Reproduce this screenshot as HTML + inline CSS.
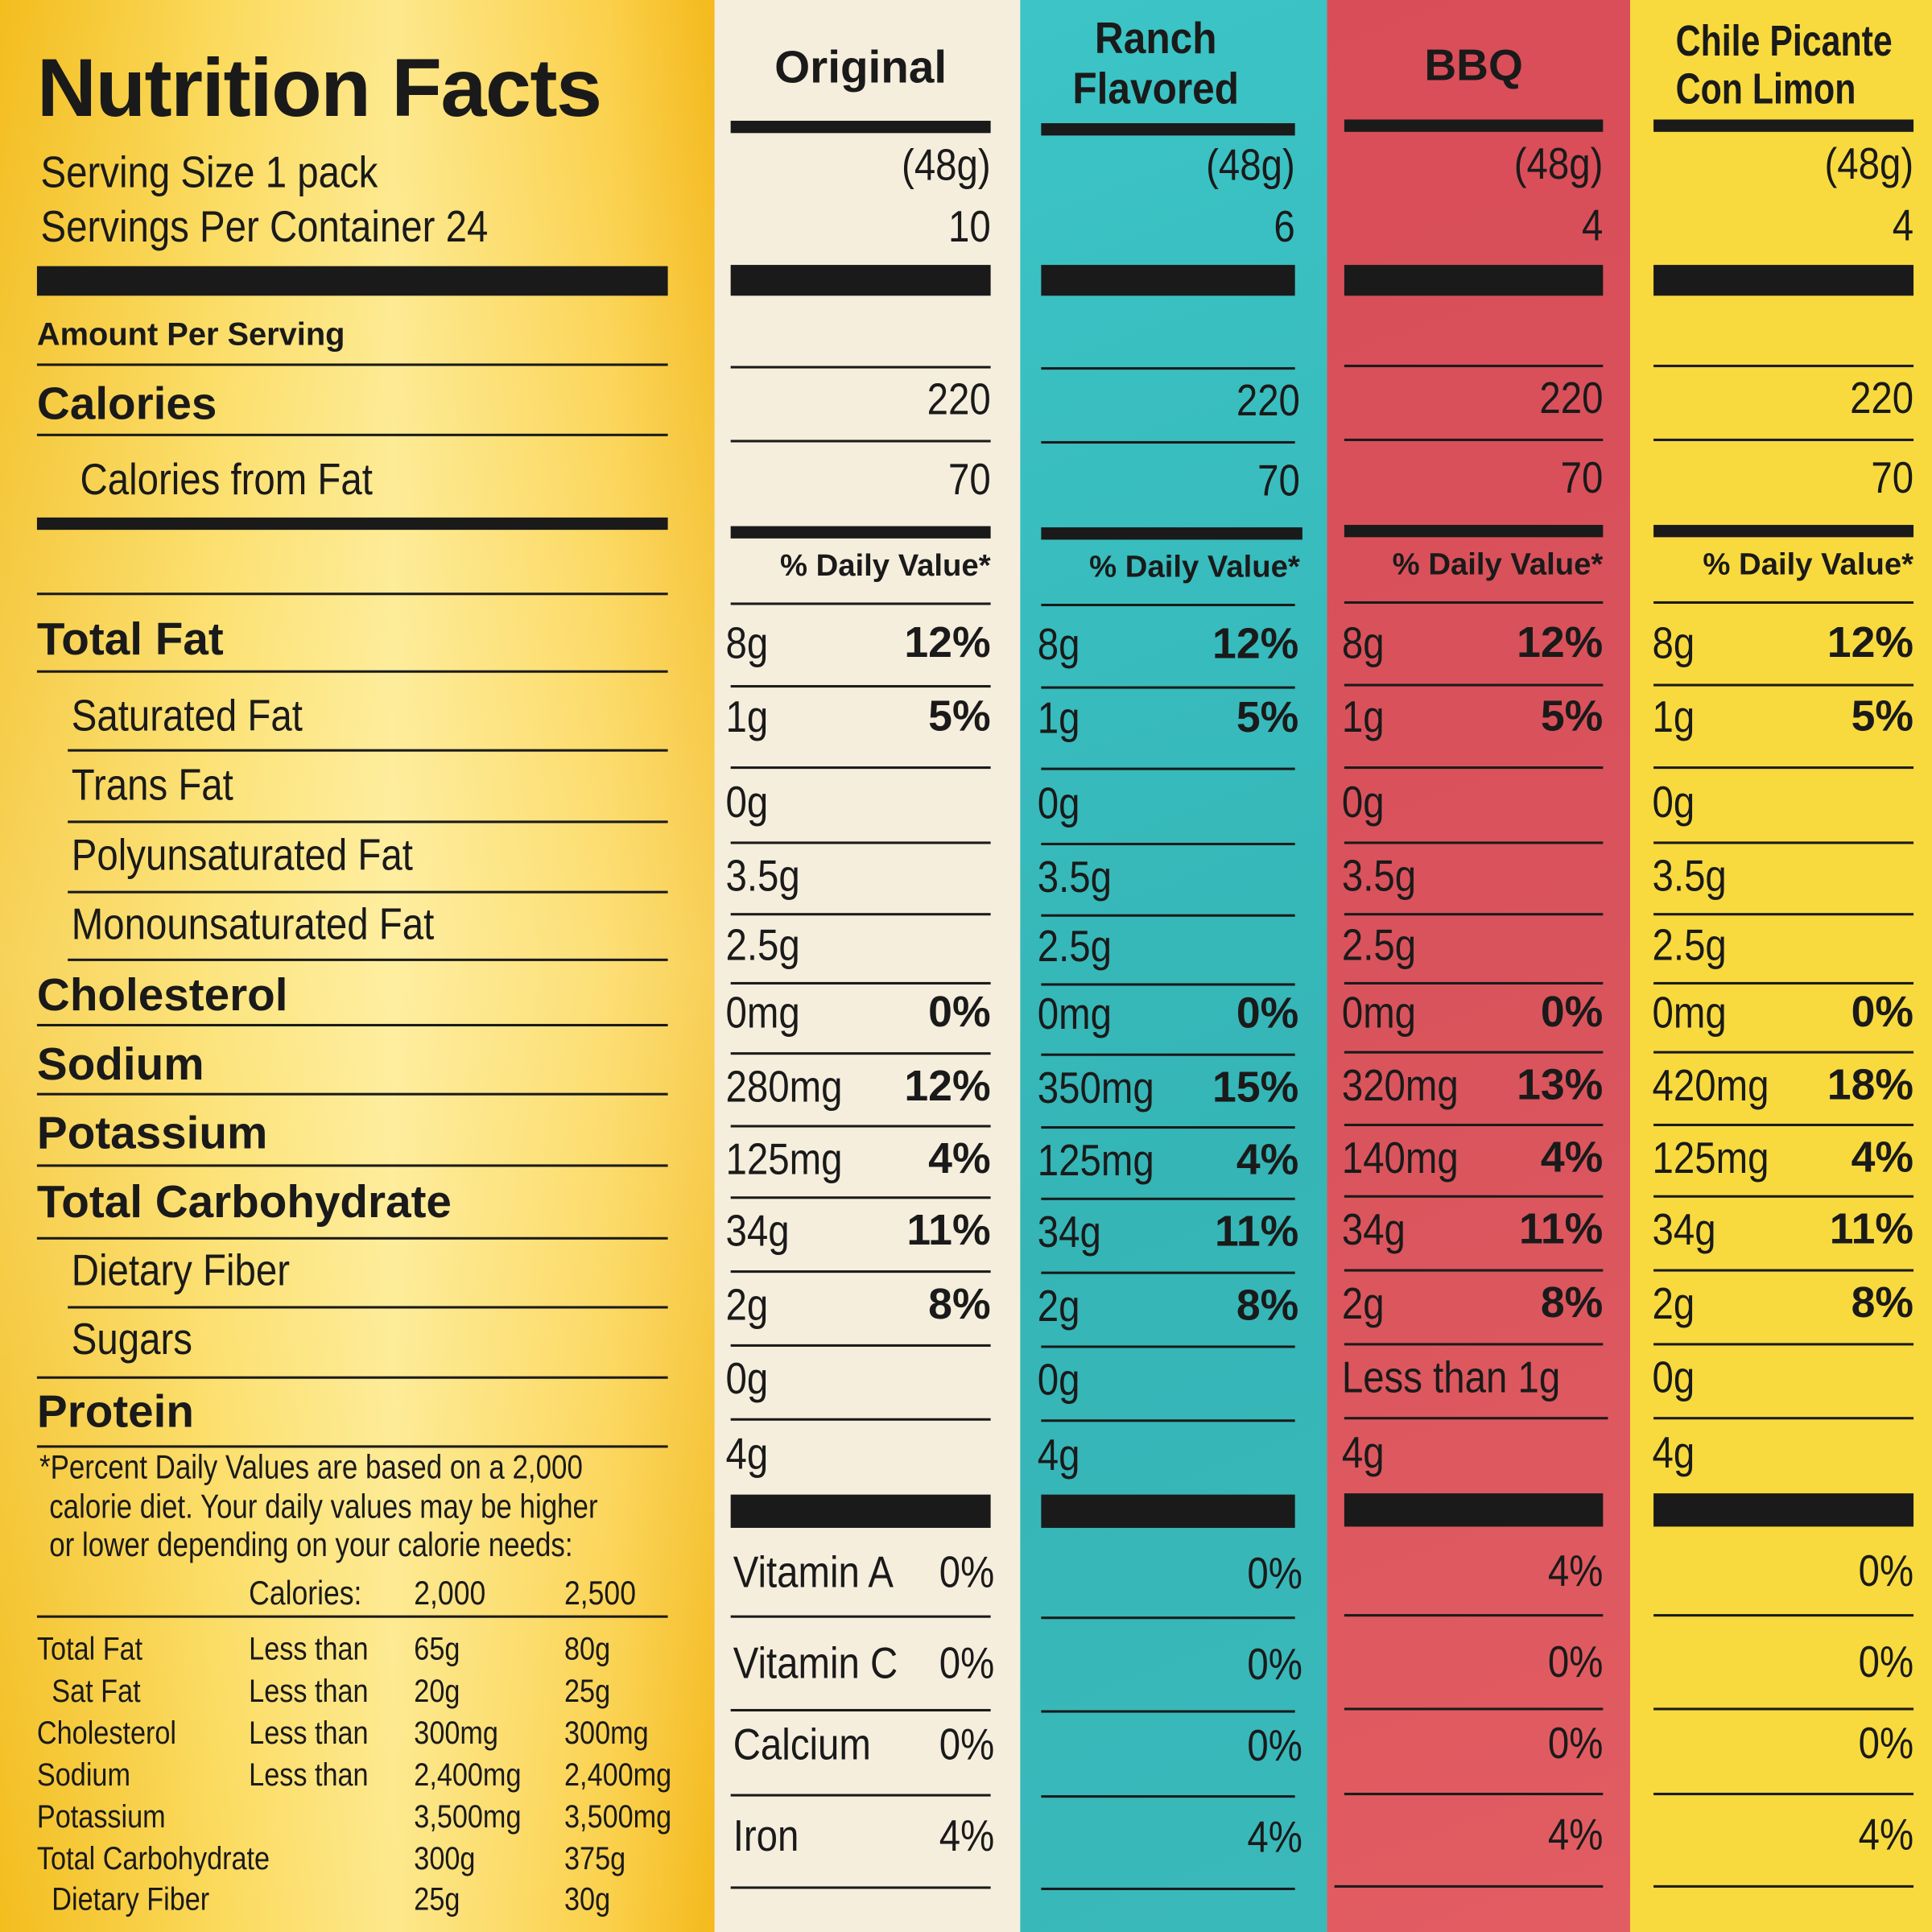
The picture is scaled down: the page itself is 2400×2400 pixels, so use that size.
<!DOCTYPE html>
<html><head><meta charset="utf-8"><style>
html,body{margin:0;padding:0;width:2400px;height:2400px;overflow:hidden;background:#fff}
#w{position:absolute;left:0;top:0;width:1568px;height:1568px;transform:scale(1.530612);transform-origin:0 0;overflow:hidden}
.p{position:absolute;top:0;height:1568px}
.t{position:absolute;white-space:nowrap;line-height:1;font-family:"Liberation Sans Narrow","Liberation Sans",sans-serif;color:#1a1a1a;font-size:36px;transform:scaleX(.86);transform-origin:0 0}
.r{right:0;text-align:right;transform-origin:100% 0}
.b{font-weight:bold;font-family:"Liberation Sans",sans-serif;transform:none}
.lb{font-size:37px!important}
.l{position:absolute;height:2px;background:#1a1a1a}
.k{position:absolute;background:#1a1a1a}
.c{position:absolute;top:0;height:1568px}
.c .l{left:0;right:0}
.c .k{left:0;right:0}
</style></head><body><div id="w">
<div class="p" style="left:0;width:580px;background:linear-gradient(90deg,#f3bd1e 0%,#fbd95a 30%,#fde88c 55%,#fbd04a 85%,#f4b91c 100%)"></div>
<div class="p" style="left:0;width:580px;background:linear-gradient(180deg,rgba(255,255,255,0) 0%,rgba(255,250,200,.35) 50%,rgba(255,255,255,0) 100%)"></div>
<div class="p" style="left:580px;width:248px;background:#f6eedd"></div>
<div class="p" style="left:828px;width:249px;background:linear-gradient(160deg,#3cc4c6,#35b5b6 60%,#3ab9bb)"></div>
<div class="p" style="left:1077px;width:246px;background:linear-gradient(160deg,#d94d58,#d9535c 50%,#e25d62)"></div>
<div class="p" style="left:1323px;width:245px;background:#f8da3e"></div>

<!-- left panel -->
<div class="t b" style="left:30px;top:38px;font-size:67px;letter-spacing:-1px">Nutrition Facts</div>
<div class="t" style="left:33px;top:122px">Serving Size 1 pack</div>
<div class="t" style="left:33px;top:166px">Servings Per Container 24</div>
<div class="k" style="left:30px;top:216px;width:512px;height:24px"></div>
<div class="t b" style="left:30px;top:258px;font-size:26px">Amount Per Serving</div>
<div class="l" style="left:30px;top:295px;width:512px"></div>
<div class="t b lb" style="left:30px;top:309px">Calories</div>
<div class="l" style="left:30px;top:352px;width:512px"></div>
<div class="t" style="left:65px;top:371px">Calories from Fat</div>
<div class="k" style="left:30px;top:420px;width:512px;height:10px"></div>
<div class="l" style="left:30px;top:481px;width:512px"></div>
<div class="t b lb" style="left:30px;top:500px">Total Fat</div>
<div class="l" style="left:30px;top:544px;width:512px"></div>
<div class="t" style="left:58px;top:563px">Saturated Fat</div>
<div class="l" style="left:55px;top:608px;width:487px"></div>
<div class="t" style="left:58px;top:619px">Trans Fat</div>
<div class="l" style="left:55px;top:666px;width:487px"></div>
<div class="t" style="left:58px;top:676px">Polyunsaturated Fat</div>
<div class="l" style="left:55px;top:723px;width:487px"></div>
<div class="t" style="left:58px;top:732px">Monounsaturated Fat</div>
<div class="l" style="left:55px;top:778px;width:487px"></div>
<div class="t b lb" style="left:30px;top:789px">Cholesterol</div>
<div class="l" style="left:30px;top:831px;width:512px"></div>
<div class="t b lb" style="left:30px;top:845px">Sodium</div>
<div class="l" style="left:30px;top:887px;width:512px"></div>
<div class="t b lb" style="left:30px;top:901px">Potassium</div>
<div class="l" style="left:30px;top:945px;width:512px"></div>
<div class="t b lb" style="left:30px;top:957px">Total Carbohydrate</div>
<div class="l" style="left:30px;top:1004px;width:512px"></div>
<div class="t" style="left:58px;top:1013px">Dietary Fiber</div>
<div class="l" style="left:55px;top:1060px;width:487px"></div>
<div class="t" style="left:58px;top:1069px">Sugars</div>
<div class="l" style="left:30px;top:1117px;width:512px"></div>
<div class="t b lb" style="left:30px;top:1127px">Protein</div>
<div class="l" style="left:30px;top:1173px;width:512px"></div>
<div class="t" style="left:32px;top:1178px;font-size:27px;transform:scaleX(.845)">*Percent Daily Values are based on a 2,000</div>
<div class="t" style="left:40px;top:1210px;font-size:27px;transform:scaleX(.845)">calorie diet. Your daily values may be higher</div>
<div class="t" style="left:40px;top:1241px;font-size:27px;transform:scaleX(.845)">or lower depending on your calorie needs:</div>
<div class="t" style="left:202px;top:1280px;font-size:27px">Calories:</div>
<div class="t" style="left:336px;top:1280px;font-size:27px">2,000</div>
<div class="t" style="left:458px;top:1280px;font-size:27px">2,500</div>
<div class="l" style="left:30px;top:1311px;width:512px"></div>
<div style="position:absolute;left:0;top:0">
<div class="t" style="left:30px;top:1325px;font-size:26px">Total Fat</div><div class="t" style="left:202px;top:1325px;font-size:26px">Less than</div><div class="t" style="left:336px;top:1325px;font-size:26px">65g</div><div class="t" style="left:458px;top:1325px;font-size:26px">80g</div>
<div class="t" style="left:42px;top:1359px;font-size:26px">Sat Fat</div><div class="t" style="left:202px;top:1359px;font-size:26px">Less than</div><div class="t" style="left:336px;top:1359px;font-size:26px">20g</div><div class="t" style="left:458px;top:1359px;font-size:26px">25g</div>
<div class="t" style="left:30px;top:1393px;font-size:26px">Cholesterol</div><div class="t" style="left:202px;top:1393px;font-size:26px">Less than</div><div class="t" style="left:336px;top:1393px;font-size:26px">300mg</div><div class="t" style="left:458px;top:1393px;font-size:26px">300mg</div>
<div class="t" style="left:30px;top:1427px;font-size:26px">Sodium</div><div class="t" style="left:202px;top:1427px;font-size:26px">Less than</div><div class="t" style="left:336px;top:1427px;font-size:26px">2,400mg</div><div class="t" style="left:458px;top:1427px;font-size:26px">2,400mg</div>
<div class="t" style="left:30px;top:1461px;font-size:26px">Potassium</div><div class="t" style="left:336px;top:1461px;font-size:26px">3,500mg</div><div class="t" style="left:458px;top:1461px;font-size:26px">3,500mg</div>
<div class="t" style="left:30px;top:1495px;font-size:26px">Total Carbohydrate</div><div class="t" style="left:336px;top:1495px;font-size:26px">300g</div><div class="t" style="left:458px;top:1495px;font-size:26px">375g</div>
<div class="t" style="left:42px;top:1528px;font-size:26px">Dietary Fiber</div><div class="t" style="left:336px;top:1528px;font-size:26px">25g</div><div class="t" style="left:458px;top:1528px;font-size:26px">30g</div>
</div>

<!-- Original -->
<div class="c" style="left:593px;width:211px">
<div class="t b" style="left:0;right:0;text-align:center;top:36px;font-size:37px">Original</div>
<div class="k" style="top:98px;height:10px"></div>
<div class="t r" style="top:116px">(48g)</div>
<div class="t r" style="top:166px">10</div>
<div class="k" style="top:215px;height:25px"></div>
<div class="l" style="top:297px"></div>
<div class="t r" style="top:306px">220</div>
<div class="l" style="top:357px"></div>
<div class="t r" style="top:371px">70</div>
<div class="k" style="top:427px;height:10px"></div>
<div class="t b r" style="top:447px;font-size:25px">% Daily Value*</div>
<div class="l" style="top:489px"></div>
<div class="t" style="left:-4px;top:504px">8g</div><div class="t b r" style="top:504px;font-size:35px">12%</div>
<div class="l" style="top:556px"></div>
<div class="t" style="left:-4px;top:564px">1g</div><div class="t b r" style="top:564px;font-size:35px">5%</div>
<div class="l" style="top:622px"></div>
<div class="t" style="left:-4px;top:633px">0g</div>
<div class="l" style="top:683px"></div>
<div class="t" style="left:-4px;top:693px">3.5g</div>
<div class="l" style="top:741px"></div>
<div class="t" style="left:-4px;top:749px">2.5g</div>
<div class="l" style="top:797px"></div>
<div class="t" style="left:-4px;top:804px">0mg</div><div class="t b r" style="top:804px;font-size:35px">0%</div>
<div class="l" style="top:854px"></div>
<div class="t" style="left:-4px;top:864px">280mg</div><div class="t b r" style="top:864px;font-size:35px">12%</div>
<div class="l" style="top:913px"></div>
<div class="t" style="left:-4px;top:923px">125mg</div><div class="t b r" style="top:923px;font-size:35px">4%</div>
<div class="l" style="top:971px"></div>
<div class="t" style="left:-4px;top:981px">34g</div><div class="t b r" style="top:981px;font-size:35px">11%</div>
<div class="l" style="top:1031px"></div>
<div class="t" style="left:-4px;top:1041px">2g</div><div class="t b r" style="top:1041px;font-size:35px">8%</div>
<div class="l" style="top:1091px"></div>
<div class="t" style="left:-4px;top:1101px">0g</div>
<div class="l" style="top:1151px"></div>
<div class="t" style="left:-4px;top:1162px">4g</div>
<div class="k" style="top:1213px;height:27px"></div>
<div class="t" style="left:2px;top:1258px">Vitamin A</div><div class="t r" style="top:1258px;right:-3px">0%</div>
<div class="l" style="top:1311px"></div>
<div class="t" style="left:2px;top:1332px">Vitamin C</div><div class="t r" style="top:1332px;right:-3px">0%</div>
<div class="l" style="top:1387px"></div>
<div class="t" style="left:2px;top:1398px">Calcium</div><div class="t r" style="top:1398px;right:-3px">0%</div>
<div class="l" style="top:1456px"></div>
<div class="t" style="left:2px;top:1472px">Iron</div><div class="t r" style="top:1472px;right:-3px">4%</div>
<div class="l" style="top:1531px"></div>
</div>

<!-- Ranch -->
<div class="c" style="left:845px;width:206px">
<div class="t b" style="left:-20px;right:0;text-align:center;top:13px;font-size:36px;transform:scaleX(.9);transform-origin:50% 0">Ranch</div>
<div class="t b" style="left:-20px;right:0;text-align:center;top:54px;font-size:36px;transform:scaleX(.9);transform-origin:50% 0">Flavored</div>
<div class="k" style="top:100px;height:10px"></div>
<div class="t r" style="top:116px">(48g)</div>
<div class="t r" style="top:166px">6</div>
<div class="k" style="top:215px;height:25px"></div>
<div class="l" style="top:298px"></div>
<div class="t r" style="top:307px;right:-4px">220</div>
<div class="l" style="top:358px"></div>
<div class="t r" style="top:372px;right:-4px">70</div>
<div class="k" style="top:428px;height:10px;right:-6px"></div>
<div class="t b r" style="top:448px;font-size:25px;right:-4px">% Daily Value*</div>
<div class="l" style="top:490px"></div>
<div class="t" style="left:-3px;top:505px">8g</div><div class="t b r" style="top:505px;font-size:35px;right:-3px">12%</div>
<div class="l" style="top:557px"></div>
<div class="t" style="left:-3px;top:565px">1g</div><div class="t b r" style="top:565px;font-size:35px;right:-3px">5%</div>
<div class="l" style="top:623px"></div>
<div class="t" style="left:-3px;top:634px">0g</div>
<div class="l" style="top:684px"></div>
<div class="t" style="left:-3px;top:694px">3.5g</div>
<div class="l" style="top:742px"></div>
<div class="t" style="left:-3px;top:750px">2.5g</div>
<div class="l" style="top:798px"></div>
<div class="t" style="left:-3px;top:805px">0mg</div><div class="t b r" style="top:805px;font-size:35px;right:-3px">0%</div>
<div class="l" style="top:855px"></div>
<div class="t" style="left:-3px;top:865px">350mg</div><div class="t b r" style="top:865px;font-size:35px;right:-3px">15%</div>
<div class="l" style="top:914px"></div>
<div class="t" style="left:-3px;top:924px">125mg</div><div class="t b r" style="top:924px;font-size:35px;right:-3px">4%</div>
<div class="l" style="top:972px"></div>
<div class="t" style="left:-3px;top:982px">34g</div><div class="t b r" style="top:982px;font-size:35px;right:-3px">11%</div>
<div class="l" style="top:1032px"></div>
<div class="t" style="left:-3px;top:1042px">2g</div><div class="t b r" style="top:1042px;font-size:35px;right:-3px">8%</div>
<div class="l" style="top:1092px"></div>
<div class="t" style="left:-3px;top:1102px">0g</div>
<div class="l" style="top:1152px"></div>
<div class="t" style="left:-3px;top:1163px">4g</div>
<div class="k" style="top:1213px;height:27px"></div>
<div class="t r" style="top:1259px;right:-6px">0%</div>
<div class="l" style="top:1312px"></div>
<div class="t r" style="top:1333px;right:-6px">0%</div>
<div class="l" style="top:1388px"></div>
<div class="t r" style="top:1399px;right:-6px">0%</div>
<div class="l" style="top:1457px"></div>
<div class="t r" style="top:1473px;right:-6px">4%</div>
<div class="l" style="top:1532px"></div>
</div>

<!-- BBQ -->
<div class="c" style="left:1091px;width:210px">
<div class="t b" style="left:0;right:0;text-align:center;top:35px;font-size:36px">BBQ</div>
<div class="k" style="top:97px;height:10px"></div>
<div class="t r" style="top:115px">(48g)</div>
<div class="t r" style="top:165px">4</div>
<div class="k" style="top:215px;height:25px"></div>
<div class="l" style="top:296px"></div>
<div class="t r" style="top:305px">220</div>
<div class="l" style="top:356px"></div>
<div class="t r" style="top:370px">70</div>
<div class="k" style="top:426px;height:10px"></div>
<div class="t b r" style="top:446px;font-size:25px">% Daily Value*</div>
<div class="l" style="top:488px"></div>
<div class="t" style="left:-2px;top:504px">8g</div><div class="t b r" style="top:504px;font-size:35px">12%</div>
<div class="l" style="top:555px"></div>
<div class="t" style="left:-2px;top:564px">1g</div><div class="t b r" style="top:564px;font-size:35px">5%</div>
<div class="l" style="top:622px"></div>
<div class="t" style="left:-2px;top:633px">0g</div>
<div class="l" style="top:683px"></div>
<div class="t" style="left:-2px;top:693px">3.5g</div>
<div class="l" style="top:741px"></div>
<div class="t" style="left:-2px;top:749px">2.5g</div>
<div class="l" style="top:797px"></div>
<div class="t" style="left:-2px;top:804px">0mg</div><div class="t b r" style="top:804px;font-size:35px">0%</div>
<div class="l" style="top:853px"></div>
<div class="t" style="left:-2px;top:863px">320mg</div><div class="t b r" style="top:863px;font-size:35px">13%</div>
<div class="l" style="top:912px"></div>
<div class="t" style="left:-2px;top:922px">140mg</div><div class="t b r" style="top:922px;font-size:35px">4%</div>
<div class="l" style="top:970px"></div>
<div class="t" style="left:-2px;top:980px">34g</div><div class="t b r" style="top:980px;font-size:35px">11%</div>
<div class="l" style="top:1030px"></div>
<div class="t" style="left:-2px;top:1040px">2g</div><div class="t b r" style="top:1040px;font-size:35px">8%</div>
<div class="l" style="top:1090px"></div>
<div class="t" style="left:-2px;top:1100px">Less than 1g</div>
<div class="l" style="top:1150px;right:-4px"></div>
<div class="t" style="left:-2px;top:1161px">4g</div>
<div class="k" style="top:1212px;height:27px"></div>
<div class="t r" style="top:1257px">4%</div>
<div class="l" style="top:1310px"></div>
<div class="t r" style="top:1331px">0%</div>
<div class="l" style="top:1386px"></div>
<div class="t r" style="top:1397px">0%</div>
<div class="l" style="top:1455px"></div>
<div class="t r" style="top:1471px">4%</div>
<div class="l" style="top:1530px;left:-8px"></div>
</div>

<!-- Chile -->
<div class="c" style="left:1342px;width:211px">
<div class="t b" style="left:18px;top:16px;font-size:35px;transform:scaleX(.8)">Chile Picante</div>
<div class="t b" style="left:18px;top:55px;font-size:35px;transform:scaleX(.8)">Con Limon</div>
<div class="k" style="top:97px;height:10px"></div>
<div class="t r" style="top:115px">(48g)</div>
<div class="t r" style="top:165px">4</div>
<div class="k" style="top:215px;height:25px"></div>
<div class="l" style="top:296px"></div>
<div class="t r" style="top:305px">220</div>
<div class="l" style="top:356px"></div>
<div class="t r" style="top:370px">70</div>
<div class="k" style="top:426px;height:10px"></div>
<div class="t b r" style="top:446px;font-size:25px">% Daily Value*</div>
<div class="l" style="top:488px"></div>
<div class="t" style="left:-1px;top:504px">8g</div><div class="t b r" style="top:504px;font-size:35px">12%</div>
<div class="l" style="top:555px"></div>
<div class="t" style="left:-1px;top:564px">1g</div><div class="t b r" style="top:564px;font-size:35px">5%</div>
<div class="l" style="top:622px"></div>
<div class="t" style="left:-1px;top:633px">0g</div>
<div class="l" style="top:683px"></div>
<div class="t" style="left:-1px;top:693px">3.5g</div>
<div class="l" style="top:741px"></div>
<div class="t" style="left:-1px;top:749px">2.5g</div>
<div class="l" style="top:797px"></div>
<div class="t" style="left:-1px;top:804px">0mg</div><div class="t b r" style="top:804px;font-size:35px">0%</div>
<div class="l" style="top:853px"></div>
<div class="t" style="left:-1px;top:863px">420mg</div><div class="t b r" style="top:863px;font-size:35px">18%</div>
<div class="l" style="top:912px"></div>
<div class="t" style="left:-1px;top:922px">125mg</div><div class="t b r" style="top:922px;font-size:35px">4%</div>
<div class="l" style="top:970px"></div>
<div class="t" style="left:-1px;top:980px">34g</div><div class="t b r" style="top:980px;font-size:35px">11%</div>
<div class="l" style="top:1030px"></div>
<div class="t" style="left:-1px;top:1040px">2g</div><div class="t b r" style="top:1040px;font-size:35px">8%</div>
<div class="l" style="top:1090px"></div>
<div class="t" style="left:-1px;top:1100px">0g</div>
<div class="l" style="top:1150px"></div>
<div class="t" style="left:-1px;top:1161px">4g</div>
<div class="k" style="top:1212px;height:27px"></div>
<div class="t r" style="top:1257px">0%</div>
<div class="l" style="top:1310px"></div>
<div class="t r" style="top:1331px">0%</div>
<div class="l" style="top:1386px"></div>
<div class="t r" style="top:1397px">0%</div>
<div class="l" style="top:1455px"></div>
<div class="t r" style="top:1471px">4%</div>
<div class="l" style="top:1530px"></div>
</div>
</div></body></html>
